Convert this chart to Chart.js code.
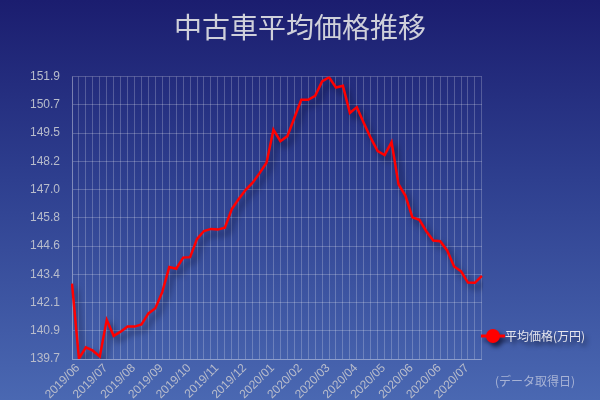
<!DOCTYPE html>
<html>
<head>
<meta charset="utf-8">
<script src="https://cdn.jsdelivr.net/npm/chart.js@4/dist/chart.umd.min.js"></script>
<style>
  html, body { margin: 0; padding: 0; }
  body {
    width: 600px; height: 400px; overflow: hidden;
    background: linear-gradient(to bottom, #1b1d6f 0%, #2e3f8f 45%, #4a68b2 100%);
  }
  #wrap { position: relative; width: 600px; height: 400px; }
</style>
</head>
<body>
<div id="wrap"><canvas id="myChart"></canvas></div>
<script>
// weekly data, one label per week (only every 4th is shown)
var labels = [
  '2019/06', '2019/06', '2019/06', '2019/06',
  '2019/07', '2019/07', '2019/07', '2019/07',
  '2019/08', '2019/08', '2019/08', '2019/08',
  '2019/09', '2019/09', '2019/09', '2019/09',
  '2019/10', '2019/10', '2019/10', '2019/10',
  '2019/11', '2019/11', '2019/11', '2019/11',
  '2019/12', '2019/12', '2019/12', '2019/12',
  '2020/01', '2020/01', '2020/01', '2020/01',
  '2020/02', '2020/02', '2020/02', '2020/02',
  '2020/03', '2020/03', '2020/03', '2020/03',
  '2020/04', '2020/04', '2020/04', '2020/04',
  '2020/05', '2020/05', '2020/05', '2020/05',
  '2020/06', '2020/06', '2020/06', '2020/06',
  '2020/06', '2020/06', '2020/06', '2020/06',
  '2020/07', '2020/07', '2020/07', '2020/07'
];

var avgPrice = [
  142.96, 139.72, 140.20, 140.06, 139.81, 141.39, 140.70, 140.88, 141.10, 141.10,
  141.19, 141.67, 141.89, 142.60, 143.67, 143.60, 144.08, 144.10, 144.89, 145.23,
  145.32, 145.29, 145.37, 146.18, 146.61, 147.01, 147.32, 147.73, 148.18, 149.61,
  149.11, 149.33, 150.11, 150.90, 150.90, 151.07, 151.69, 151.87, 151.43, 151.50,
  150.33, 150.58, 149.90, 149.25, 148.68, 148.51, 149.07, 147.25, 146.75, 145.82,
  145.71, 145.22, 144.82, 144.79, 144.39, 143.70, 143.49, 143.00, 142.99, 143.29
];

var seriesName = '平均価格(万円)';
var chartTitle = '中古車平均価格推移';
var xNote = '(データ取得日)';
var yMin = 139.7, yMax = 151.9;

// legend icon: line with a dot in the middle
function legendIcon() {
  var c = document.createElement('canvas');
  c.width = 24; c.height = 16;
  var g = c.getContext('2d');
  g.strokeStyle = '#ff0000';
  g.lineWidth = 3;
  g.beginPath(); g.moveTo(0, 8); g.lineTo(24, 8); g.stroke();
  g.fillStyle = '#ff0000';
  g.beginPath(); g.arc(12, 8, 7, 0, Math.PI * 2); g.fill();
  return c;
}

var shadowPlugin = {
  id: 'shadow',
  beforeDatasetsDraw: function(chart) {
    var ctx = chart.ctx;
    ctx.save();
    ctx.shadowColor = 'rgba(0,0,20,0.55)';
    ctx.shadowBlur = 6;
    ctx.shadowOffsetX = 4;
    ctx.shadowOffsetY = 5;
  },
  afterDatasetsDraw: function(chart) {
    chart.ctx.restore();
  },
  afterUpdate: function(chart) {
    var lg = chart.legend;
    if (lg && !lg._shadowed) {
      var orig = lg.draw;
      lg.draw = function() {
        var ctx = chart.ctx;
        ctx.save();
        // nudge the legend up/left a bit and give it a drop shadow
        ctx.translate(-5, -7);
        ctx.shadowColor = 'rgba(0,0,20,0.6)';
        ctx.shadowBlur = 4;
        ctx.shadowOffsetX = 3;
        ctx.shadowOffsetY = 4;
        orig.apply(this, arguments);
        ctx.restore();
      };
      lg._shadowed = true;
    }
  },
  afterDraw: function(chart) {
    var ctx = chart.ctx;
    ctx.save();
    ctx.font = '12px "Noto Sans CJK JP", sans-serif';
    ctx.fillStyle = 'rgba(200,205,225,0.75)';
    ctx.textAlign = 'left';
    ctx.textBaseline = 'middle';
    ctx.fillText(xNote, 495, 381);
    ctx.restore();
  }
};

window.onload = function() {
  init();
};

function init() {
  var ctx = document.getElementById('myChart').getContext('2d');
  var chart = new Chart(ctx, {
    type: 'line',
    data: {
      labels: labels,
      datasets: [{
        label: seriesName,
        data: avgPrice,
        borderColor: '#ff0000',
        backgroundColor: '#ff0000',
        borderWidth: 2.5,
        pointRadius: 0,
        pointStyle: legendIcon(),
        tension: 0,
        fill: false
      }]
    },
    plugins: [shadowPlugin],
    options: {
      responsive: true,
      maintainAspectRatio: false,
      animation: false,
      layout: { padding: { left: 0, right: 0, top: 0, bottom: 0 } },
      plugins: {
        title: {
          display: true,
          text: chartTitle,
          color: '#cfd0da',
          font: { family: '"Noto Sans CJK JP", sans-serif', size: 28, weight: 'normal' },
          padding: { top: 11, bottom: 32 }
        },
        legend: {
          position: 'right',
          align: 'end',
          fullSize: false,
          labels: {
            usePointStyle: true,
            color: '#e6e6ee',
            font: { family: '"Noto Sans CJK JP", sans-serif', size: 12 },
            padding: 10
          }
        },
        tooltip: { enabled: false }
      },
      scales: {
        x: {
          grid: { color: 'rgba(255,255,255,0.22)', drawTicks: false },
          border: { color: 'rgba(255,255,255,0.22)' },
          afterFit: function(s) { s.height = 41; },
          ticks: {
            autoSkip: false,
            maxRotation: 45,
            minRotation: 45,
            padding: 2,
            labelOffset: 6,
            color: '#b8bccb',
            font: { family: 'Arial, "Liberation Sans", sans-serif', size: 12 },
            callback: function(v, i) { return i % 4 === 0 ? labels[i] : ''; }
          }
        },
        y: {
          min: yMin,
          max: yMax,
          afterFit: function(s) { s.width = 72; },
          grid: { color: 'rgba(255,255,255,0.22)', drawTicks: false },
          border: { color: 'rgba(255,255,255,0.22)' },
          ticks: {
            count: 11,
            padding: 12,
            color: '#b8bccb',
            font: { family: 'Arial, "Liberation Sans", sans-serif', size: 12 },
            callback: function(v) { return Number(v).toFixed(1); }
          }
        }
      }
    }
  });
}
</script>
</body>
</html>
